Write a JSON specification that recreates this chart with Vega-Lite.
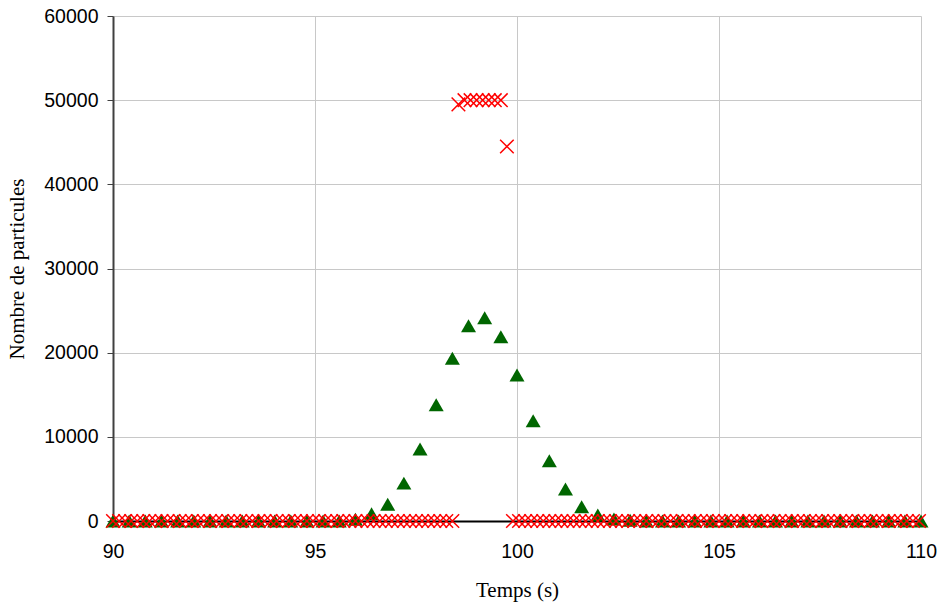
{
  "$schema": "https://vega.github.io/schema/vega-lite/v6.json",
  "width": 808,
  "height": 505,
  "autosize": {"type": "none"},
  "padding": {"left": 113, "top": 16, "right": 19, "bottom": 82},
  "background": "white",
  "config": {"view": {"stroke": null}},
  "datasets": {
    "tri": [
      {"t":90,"n":0},{"t":90.4,"n":0},{"t":90.8,"n":0},{"t":91.2,"n":0},{"t":91.6,"n":0},{"t":92,"n":0},{"t":92.4,"n":0},{"t":92.8,"n":0},{"t":93.2,"n":0},{"t":93.6,"n":0},
      {"t":94,"n":0},{"t":94.4,"n":0},{"t":94.8,"n":0},{"t":95.2,"n":0},{"t":95.6,"n":0},{"t":96,"n":200},{"t":96.4,"n":850},{"t":96.8,"n":2000},{"t":97.2,"n":4500},{"t":97.6,"n":8550},
      {"t":98,"n":13800},{"t":98.4,"n":19350},{"t":98.8,"n":23200},{"t":99.2,"n":24150},{"t":99.6,"n":21900},{"t":100,"n":17350},{"t":100.4,"n":11900},{"t":100.8,"n":7150},{"t":101.2,"n":3800},{"t":101.6,"n":1700},
      {"t":102,"n":700},{"t":102.4,"n":250},{"t":102.8,"n":80},{"t":103.2,"n":0},{"t":103.6,"n":0},{"t":104,"n":0},{"t":104.4,"n":0},{"t":104.8,"n":0},{"t":105.2,"n":0},{"t":105.6,"n":0},
      {"t":106,"n":0},{"t":106.4,"n":0},{"t":106.8,"n":0},{"t":107.2,"n":0},{"t":107.6,"n":0},{"t":108,"n":0},{"t":108.4,"n":0},{"t":108.8,"n":0},{"t":109.2,"n":0},{"t":109.6,"n":0},
      {"t":110,"n":0}
    ],
    "cross": [
      {"t":90,"n":0},{"t":90.15,"n":0},{"t":90.3,"n":0},{"t":90.45,"n":0},{"t":90.6,"n":0},{"t":90.75,"n":0},{"t":90.9,"n":0},{"t":91.05,"n":0},{"t":91.2,"n":0},{"t":91.35,"n":0},
      {"t":91.5,"n":0},{"t":91.65,"n":0},{"t":91.8,"n":0},{"t":91.95,"n":0},{"t":92.1,"n":0},{"t":92.25,"n":0},{"t":92.4,"n":0},{"t":92.55,"n":0},{"t":92.7,"n":0},{"t":92.85,"n":0},
      {"t":93,"n":0},{"t":93.15,"n":0},{"t":93.3,"n":0},{"t":93.45,"n":0},{"t":93.6,"n":0},{"t":93.75,"n":0},{"t":93.9,"n":0},{"t":94.05,"n":0},{"t":94.2,"n":0},{"t":94.35,"n":0},
      {"t":94.5,"n":0},{"t":94.65,"n":0},{"t":94.8,"n":0},{"t":94.95,"n":0},{"t":95.1,"n":0},{"t":95.25,"n":0},{"t":95.4,"n":0},{"t":95.55,"n":0},{"t":95.7,"n":0},{"t":95.85,"n":0},
      {"t":96,"n":0},{"t":96.15,"n":0},{"t":96.3,"n":0},{"t":96.45,"n":0},{"t":96.6,"n":0},{"t":96.75,"n":0},{"t":96.9,"n":0},{"t":97.05,"n":0},{"t":97.2,"n":0},{"t":97.35,"n":0},
      {"t":97.5,"n":0},{"t":97.65,"n":0},{"t":97.8,"n":0},{"t":97.95,"n":0},{"t":98.1,"n":0},{"t":98.25,"n":0},{"t":98.4,"n":0},{"t":98.55,"n":49500},{"t":98.7,"n":50000},{"t":98.85,"n":50000},
      {"t":99,"n":50000},{"t":99.15,"n":50000},{"t":99.3,"n":50000},{"t":99.45,"n":50000},{"t":99.6,"n":50000},{"t":99.75,"n":44500},{"t":99.9,"n":0},{"t":100.05,"n":0},{"t":100.2,"n":0},{"t":100.35,"n":0},
      {"t":100.5,"n":0},{"t":100.65,"n":0},{"t":100.8,"n":0},{"t":100.95,"n":0},{"t":101.1,"n":0},{"t":101.25,"n":0},{"t":101.4,"n":0},{"t":101.55,"n":0},{"t":101.7,"n":0},{"t":101.85,"n":0},
      {"t":102,"n":0},{"t":102.15,"n":0},{"t":102.3,"n":0},{"t":102.45,"n":0},{"t":102.6,"n":0},{"t":102.75,"n":0},{"t":102.9,"n":0},{"t":103.05,"n":0},{"t":103.2,"n":0},{"t":103.35,"n":0},
      {"t":103.5,"n":0},{"t":103.65,"n":0},{"t":103.8,"n":0},{"t":103.95,"n":0},{"t":104.1,"n":0},{"t":104.25,"n":0},{"t":104.4,"n":0},{"t":104.55,"n":0},{"t":104.7,"n":0},{"t":104.85,"n":0},
      {"t":105,"n":0},{"t":105.15,"n":0},{"t":105.3,"n":0},{"t":105.45,"n":0},{"t":105.6,"n":0},{"t":105.75,"n":0},{"t":105.9,"n":0},{"t":106.05,"n":0},{"t":106.2,"n":0},{"t":106.35,"n":0},
      {"t":106.5,"n":0},{"t":106.65,"n":0},{"t":106.8,"n":0},{"t":106.95,"n":0},{"t":107.1,"n":0},{"t":107.25,"n":0},{"t":107.4,"n":0},{"t":107.55,"n":0},{"t":107.7,"n":0},{"t":107.85,"n":0},
      {"t":108,"n":0},{"t":108.15,"n":0},{"t":108.3,"n":0},{"t":108.45,"n":0},{"t":108.6,"n":0},{"t":108.75,"n":0},{"t":108.9,"n":0},{"t":109.05,"n":0},{"t":109.2,"n":0},{"t":109.35,"n":0},
      {"t":109.5,"n":0},{"t":109.65,"n":0},{"t":109.8,"n":0},{"t":109.95,"n":0}
    ]
  },
  "encoding": {
    "x": {
      "field": "t",
      "type": "quantitative",
      "scale": {"domain": [90, 110], "nice": false, "zero": false},
      "axis": {
        "title": "Temps (s)",
        "values": [90, 95, 100, 105, 110],
        "format": "d",
        "grid": true,
        "gridColor": "#c8c8c8",
        "gridWidth": 1,
        "domainColor": "#000000",
        "domainWidth": 2,
        "ticks": false,
        "tickSize": 0,
        "labelPadding": 21,
        "labelFont": "Liberation Sans",
        "labelFontSize": 19.5,
        "labelColor": "#000000",
        "labelFlush": false,
        "labelOverlap": false,
        "titleFont": "Liberation Serif",
        "titleFontSize": 21,
        "titleFontWeight": "normal",
        "titleColor": "#000000",
        "titleBaseline": "top",
        "titleY": 58
      }
    },
    "y": {
      "field": "n",
      "type": "quantitative",
      "scale": {"domain": [0, 60000], "nice": false},
      "axis": {
        "title": "Nombre de particules",
        "values": [0, 10000, 20000, 30000, 40000, 50000, 60000],
        "format": "d",
        "grid": true,
        "gridColor": "#c8c8c8",
        "gridWidth": 1,
        "domainColor": "#404040",
        "domainWidth": 2,
        "ticks": true,
        "tickSize": 6,
        "tickColor": "#404040",
        "tickWidth": 1,
        "labelPadding": 9,
        "labelFont": "Liberation Sans",
        "labelFontSize": 19.5,
        "labelColor": "#000000",
        "labelOverlap": false,
        "titleFont": "Liberation Serif",
        "titleFontSize": 21,
        "titleFontWeight": "normal",
        "titleColor": "#000000",
        "titleBaseline": "bottom",
        "titleX": -86
      }
    }
  },
  "layer": [
    {
      "data": {"name": "tri"},
      "mark": {"type": "point", "shape": "triangle-up", "filled": true, "color": "#006600", "size": 225, "opacity": 1}
    },
    {
      "data": {"name": "cross"},
      "mark": {"type": "point", "shape": "M-1,-1L1,1M-1,1L1,-1", "filled": false, "color": "#ff0000", "strokeWidth": 1.5, "size": 185, "opacity": 1}
    }
  ]
}
